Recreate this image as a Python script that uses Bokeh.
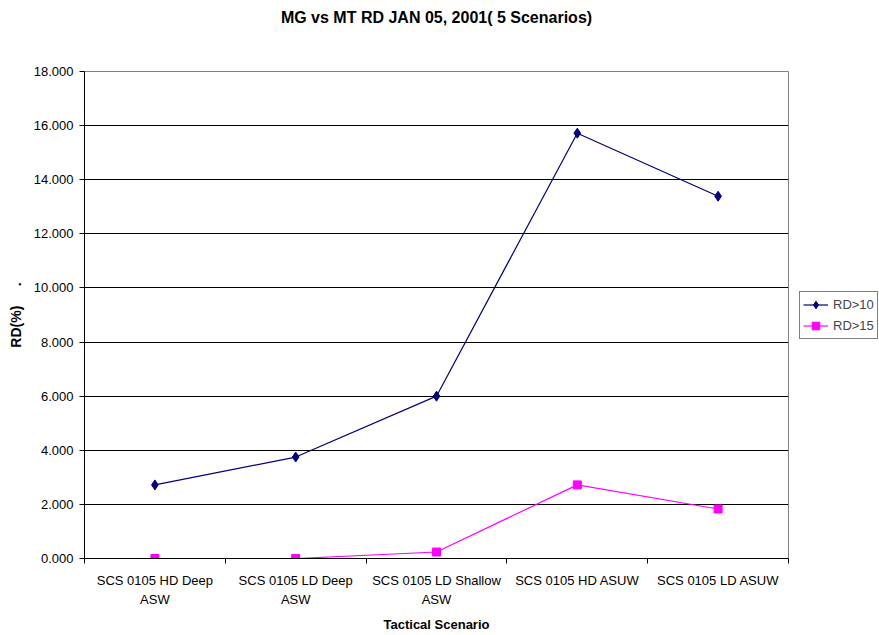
from bokeh.plotting import figure
from bokeh.layouts import row
from bokeh.models import FixedTicker, NumeralTickFormatter, Legend, LegendItem, Range1d, ColumnDataSource
from bokeh.embed import file_html
from bokeh.resources import INLINE

# ---- data ----
categories = [
    "SCS 0105 HD Deep\nASW",
    "SCS 0105 LD Deep\nASW",
    "SCS 0105 LD Shallow\nASW",
    "SCS 0105 HD ASUW",
    "SCS 0105 LD ASUW",
]
rd10 = [2.72, 3.75, 6.00, 15.72, 13.39]
rd15 = [0.00, 0.00, 0.24, 2.72, 1.83]
series_names = ["RD>10", "RD>15"]
y_ticks = [0, 2, 4, 6, 8, 10, 12, 14, 16, 18]
title_text = "MG vs MT RD JAN 05, 2001( 5 Scenarios)"
x_title = "Tactical Scenario"
y_title = "RD(%)"

FONT = "Liberation Sans"
NAVY = "#000080"
MAGENTA = "#FF00FF"
NB = "\u00a0"

xs = [i + 0.5 for i in range(len(categories))]
bounds = [i for i in range(len(categories) + 1)]

src = ColumnDataSource(dict(x=xs, rd10=rd10, rd15=rd15))

p = figure(width=790, height=635, x_range=Range1d(0, len(categories)),
           y_range=Range1d(y_ticks[0], y_ticks[-1]),
           output_backend="svg", toolbar_location=None,
           min_border_left=84, min_border_right=2, min_border_top=71, min_border_bottom=75)
p.outline_line_color = "#808080"
p.background_fill_color = "white"

# title (two blank lines below it lift it toward the top of the page)
p.title.text = title_text + "\n" + NB + "\n" + NB
p.title.align = "center"
p.title.vertical_align = "top"
p.title.text_font = FONT
p.title.text_font_size = "16px"
p.title.text_font_style = "bold"
p.title.text_color = "black"
p.title.text_line_height = 1.2
p.title.standoff = 6
p.title.offset = 4

# grid
p.xgrid.visible = False
p.ygrid.ticker = FixedTicker(ticks=y_ticks)
p.ygrid.grid_line_color = "#000000"
p.ygrid.grid_line_width = 1

# y axis
p.yaxis.ticker = FixedTicker(ticks=y_ticks)
p.yaxis.formatter = NumeralTickFormatter(format="0.000")
p.yaxis.major_tick_in = 0
p.yaxis.major_tick_out = 5
p.yaxis.minor_tick_line_color = None
p.yaxis.major_label_text_font = FONT
p.yaxis.major_label_text_font_size = "13px"
p.yaxis.major_label_text_color = "black"
p.yaxis.major_label_standoff = 6
p.yaxis.axis_line_color = "black"
p.yaxis.axis_label = y_title + NB * 5 + "."
p.yaxis.axis_label_text_font = FONT
p.yaxis.axis_label_text_font_size = "14px"
p.yaxis.axis_label_text_font_style = "bold"
p.yaxis.axis_label_text_color = "black"
p.yaxis.axis_label_standoff = 7

# x axis
p.xaxis.ticker = FixedTicker(ticks=xs, minor_ticks=bounds)
p.xaxis.major_label_overrides = {x: c for x, c in zip(xs, categories)}
p.xaxis.major_tick_in = 0
p.xaxis.major_tick_out = 0
p.xaxis.minor_tick_in = 0
p.xaxis.minor_tick_out = 5
p.xaxis.minor_tick_line_color = "black"
p.xaxis.major_label_text_font = FONT
p.xaxis.major_label_text_font_size = "13px"
p.xaxis.major_label_text_color = "black"
p.xaxis.major_label_text_line_height = 1.3
p.xaxis.major_label_standoff = 9
p.xaxis.axis_line_color = "black"
p.xaxis.axis_label = x_title
p.xaxis.axis_label_text_font = FONT
p.xaxis.axis_label_text_font_size = "13px"
p.xaxis.axis_label_text_font_style = "bold"
p.xaxis.axis_label_text_color = "black"
p.xaxis.axis_label_standoff = 7

# series
line_kw = dict(line_width=1.2)
p.line("x", "rd10", source=src, line_color=NAVY, **line_kw)
p.scatter("x", "rd10", source=src, marker="diamond", size=10, fill_color=NAVY, line_color=NAVY)
p.line("x", "rd15", source=src, line_color=MAGENTA, **line_kw)
p.scatter("x", "rd15", source=src, marker="square", size=8, fill_color=MAGENTA, line_color=MAGENTA)

# legend panel (separate narrow figure holding only the legend keys)
q = figure(width=89, height=635, x_range=Range1d(0, 1), y_range=Range1d(0, 1),
           x_axis_location=None, y_axis_location=None,
           output_backend="svg", toolbar_location=None,
           min_border_left=0, min_border_right=0, min_border_top=0, min_border_bottom=0)
q.grid.visible = False
q.outline_line_color = None
nan = float("nan")
empty = ColumnDataSource(dict(x=[nan], y=[nan]))
kl1 = q.line("x", "y", source=empty, line_color=NAVY, **line_kw)
km1 = q.scatter("x", "y", source=empty, marker="diamond", size=10, fill_color=NAVY, line_color=NAVY)
kl2 = q.line("x", "y", source=empty, line_color=MAGENTA, **line_kw)
km2 = q.scatter("x", "y", source=empty, marker="square", size=8, fill_color=MAGENTA, line_color=MAGENTA)

legend = Legend(items=[LegendItem(label=series_names[0], renderers=[kl1, km1]),
                       LegendItem(label=series_names[1], renderers=[kl2, km2])],
                location=(9, 219), border_line_color="black", border_line_width=1,
                label_text_font=FONT, label_text_font_size="13px",
                glyph_width=25, glyph_height=19, label_height=19,
                padding=3, spacing=2, label_standoff=5, margin=0,
                background_fill_color="white", background_fill_alpha=1)
q.add_layout(legend)

layout = row(p, q, spacing=0)
open("out.html", "w").write(file_html(layout, INLINE))
